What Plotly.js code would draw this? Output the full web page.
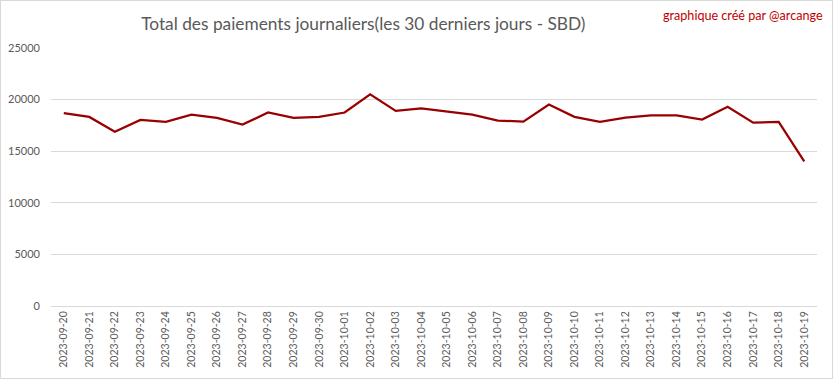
<!DOCTYPE html>
<html>
<head>
<meta charset="utf-8">
<script src="https://cdn.plot.ly/plotly-3.0.1.min.js"></script>
<style>
html,body{margin:0;padding:0;background:#fff;}
#chart{width:831px;height:377px;border:1px solid #d9d9d9;}
</style>
</head>
<body>
<div id="chart"></div>
<script>
const dates = ["2023-09-20","2023-09-21","2023-09-22","2023-09-23","2023-09-24","2023-09-25","2023-09-26","2023-09-27","2023-09-28","2023-09-29","2023-09-30","2023-10-01","2023-10-02","2023-10-03","2023-10-04","2023-10-05","2023-10-06","2023-10-07","2023-10-08","2023-10-09","2023-10-10","2023-10-11","2023-10-12","2023-10-13","2023-10-14","2023-10-15","2023-10-16","2023-10-17","2023-10-18","2023-10-19"];
const payments = [18700,18320,16880,18030,17840,18550,18230,17580,18750,18230,18330,18750,20510,18910,19140,18850,18550,17970,17870,19530,18330,17840,18260,18460,18460,18070,19300,17770,17840,14020];
const yTicks = [0,5000,10000,15000,20000,25000];
const titleText = "Total des paiements journaliers(les 30 derniers jours - SBD)";
const creditText = "graphique créé par @arcange";

Plotly.newPlot("chart", [{
  x: dates,
  y: payments,
  type: "scatter",
  mode: "lines",
  line: {color: "#990000", width: 2.25},
  hoverinfo: "x+y"
}], {
  width: 831, height: 377,
  margin: {l: 50, r: 15, t: 47, b: 72},
  paper_bgcolor: "#ffffff",
  plot_bgcolor: "#ffffff",
  font: {family: "Lato, 'Open Sans', sans-serif", color: "#595959"},
  title: {text: titleText, font: {size: 17.3, color: "#595959", family: "Lato, sans-serif"}, x: 0.436, xanchor: "center", y: 0.94, yanchor: "middle"},
  showlegend: false,
  xaxis: {
    type: "category",
    range: [-0.5, dates.length - 0.5],
    tickangle: -90,
    tickfont: {size: 10.5, color: "#595959"},
    showgrid: false,
    showline: true, linecolor: "#d9d9d9", linewidth: 1,
    ticks: "", ticklen: 0,
    automargin: false,
    fixedrange: true
  },
  yaxis: {
    range: [0, 25000],
    tickvals: yTicks,
    ticktext: yTicks.map(String),
    tickfont: {size: 11, color: "#595959"},
    showgrid: true, gridcolor: "#d9d9d9", gridwidth: 1,
    zeroline: false,
    showline: false,
    ticks: "", ticklabelstandoff: 10,
    automargin: false,
    fixedrange: true
  },
  annotations: [{
    text: creditText,
    xref: "paper", yref: "paper",
    x: 1.01, y: 1.0, xanchor: "right", yanchor: "bottom",
    yshift: 23,
    showarrow: false,
    font: {size: 12.6, color: "#c00000", family: "Lato, sans-serif"}
  }]
}, {displayModeBar: false, staticPlot: false});
</script>
</body>
</html>
